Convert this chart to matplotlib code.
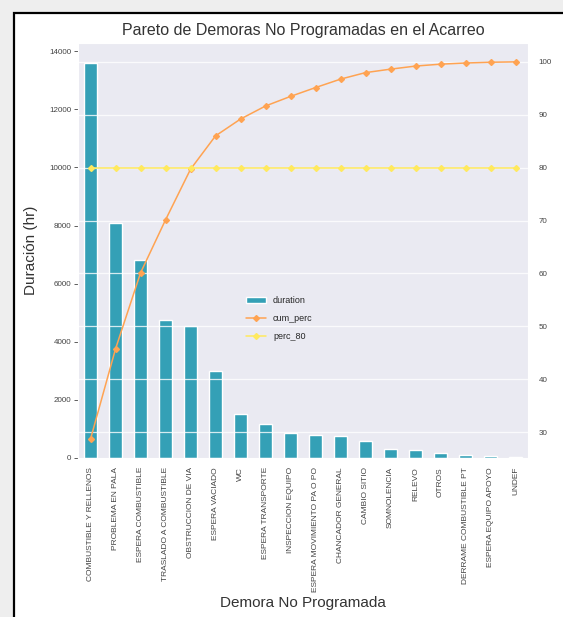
import numpy as np
import matplotlib
matplotlib.use("Agg")
import matplotlib.pyplot as plt
import seaborn as sns
from matplotlib.patches import Rectangle

# demoras no programadas en el acarreo (horas)
demoras = ['COMBUSTIBLE Y RELLENOS', 'PROBLEMA EN PALA', 'ESPERA COMBUSTIBLE',
           'TRASLADO A COMBUSTIBLE', 'OBSTRUCCION DE VIA', 'ESPERA VACIADO', 'WC',
           'ESPERA TRANSPORTE', 'INSPECCION EQUIPO', 'ESPERA MOVIMIENTO PA O PO',
           'CHANCADOR GENERAL', 'CAMBIO SITIO', 'SOMNOLENCIA', 'RELEVO', 'OTROS',
           'DERRAME COMBUSTIBLE PT', 'ESPERA EQUIPO APOYO', 'UNDEF']
duration = [13600, 8080, 6810, 4750, 4540, 2990, 1510, 1170, 860, 790,
            757, 585, 310, 275, 172, 103, 69, 34]
perc_80 = [80] * len(demoras)

dur = np.array(duration, dtype=float)
cum_perc = dur.cumsum() / dur.sum() * 100

sns.set_style('darkgrid')
plt.rcParams['font.family'] = ['Liberation Sans', 'DejaVu Sans']

fig = plt.figure(figsize=(5.63, 6.17), dpi=100, facecolor='#eeeeee')
# white panel with a black border
fig.patches.append(Rectangle((14 / 563, -0.02), 1.0, (617 - 13) / 617 + 0.02,
                             transform=fig.transFigure, facecolor='white',
                             edgecolor='black', linewidth=1.6, zorder=-5))

ax = fig.add_axes([78 / 563, (617 - 458) / 617, 450 / 563, 415 / 617])
ax.set_facecolor('#EAEAF2')
x = np.arange(len(demoras))
bars = ax.bar(x, dur, width=0.5, color='#34A0B6', label='duration')
ax.set_xlim(-0.5, len(demoras) - 0.5)
ax.set_ylim(0, dur.max() * 1.05)
ax.set_yticks(np.arange(0, 14001, 2000))
ax.grid(False)
ax.set_xticks(x)
ax.set_xticklabels(demoras, rotation=90, fontsize=6.0, color='#444444')
ax.tick_params(axis='y', labelsize=5.8, labelcolor='#444444', left=True,
               length=3, width=0.6, color='#444444', pad=2)
ax.tick_params(axis='x', pad=3)
ax.set_ylabel('Duración (hr)', fontsize=11, color='#333333', labelpad=8)
ax.set_xlabel('Demora No Programada', fontsize=11, color='#333333', labelpad=3)
ax.set_title('Pareto de Demoras No Programadas en el Acarreo', fontsize=11.5,
             color='#333333', pad=6)

ax2 = ax.twinx()
ax2.grid(True, color='white', linewidth=0.9, alpha=0.8)
l1, = ax2.plot(x, cum_perc, color='#FFA352', marker='D', markersize=3,
               linewidth=1.1, label='cum_perc')
l2, = ax2.plot(x, perc_80, color='#FFE95E', marker='D', markersize=3,
               linewidth=1.1, label='perc_80')
ax2.set_yticks(np.arange(30, 101, 10))
ax2.tick_params(axis='y', labelsize=5.8, labelcolor='#444444', right=False, pad=4)
for s in ax2.spines.values():
    s.set_visible(False)

ax2.legend([bars, l1, l2], ['duration', 'cum_perc', 'perc_80'], loc='upper left',
           bbox_to_anchor=(0.355, 0.41), fontsize=6.5, frameon=False,
           handlelength=2.2, labelspacing=1.0)

fig.savefig('out.png', dpi=100, facecolor=fig.get_facecolor())
